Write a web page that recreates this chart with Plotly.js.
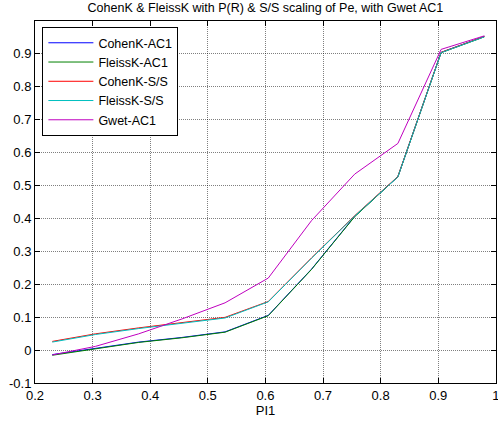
<!DOCTYPE html>
<html>
<head>
<meta charset="utf-8">
<script src="https://cdn.plot.ly/plotly-3.0.1.min.js"></script>
<style>html,body{margin:0;padding:0;background:#fff;}#chart{width:498px;height:425px;}</style>
</head>
<body>
<div id="chart"></div>
<script>
var pi1 = [0.23, 0.305, 0.38, 0.455, 0.53, 0.605, 0.68, 0.755, 0.83, 0.905, 0.98];
var cohenAC1 = [-0.014, 0.004, 0.024, 0.038, 0.055, 0.105, 0.245, 0.405, 0.525, 0.902, 0.950];
var fleissAC1 = [-0.016, 0.003, 0.023, 0.037, 0.054, 0.104, 0.244, 0.404, 0.525, 0.901, 0.949];
var cohenSS = [0.026, 0.049, 0.067, 0.082, 0.099, 0.147, 0.279, 0.407, 0.526, 0.902, 0.950];
var fleissSS = [0.024, 0.047, 0.065, 0.080, 0.097, 0.146, 0.278, 0.406, 0.525, 0.901, 0.949];
var gwetAC1 = [-0.015, 0.011, 0.049, 0.094, 0.143, 0.218, 0.392, 0.533, 0.626, 0.911, 0.952];

var seriesNames = ['CohenK-AC1', 'FleissK-AC1', 'CohenK-S/S', 'FleissK-S/S', 'Gwet-AC1'];
var seriesData = [cohenAC1, fleissAC1, cohenSS, fleissSS, gwetAC1];
var seriesColors = ['#0000ff', '#008000', '#ff0000', '#00bfbf', '#bf00bf'];

var xTicks = [0.2, 0.3, 0.4, 0.5, 0.6, 0.7, 0.8, 0.9, 1.0];
var xTickText = ['0.2', '0.3', '0.4', '0.5', '0.6', '0.7', '0.8', '0.9', '1'];
var yTicks = [-0.1, 0, 0.1, 0.2, 0.3, 0.4, 0.5, 0.6, 0.7, 0.8, 0.9];
var yTickText = ['-0.1', '0', '0.1', '0.2', '0.3', '0.4', '0.5', '0.6', '0.7', '0.8', '0.9'];

var traces = seriesNames.map(function (n, i) {
  return {
    x: pi1, y: seriesData[i], name: n, type: 'scatter', mode: 'lines',
    line: {color: seriesColors[i], width: 1}
  };
});

var fontFam = 'Liberation Sans, Arial, sans-serif';
var axisCommon = {
  showline: true, linecolor: '#000', linewidth: 1, mirror: 'ticks',
  ticks: 'inside', ticklen: 5, tickcolor: '#000', tickwidth: 1,
  showgrid: true, gridcolor: 'rgba(0,0,0,0.5)', griddash: '1px,1px', gridwidth: 1,
  zeroline: false, tickfont: {family: fontFam, size: 13, color: '#000'},
  ticklabeloverflow: 'allow'
};

var layout = {
  width: 498, height: 425,
  margin: {l: 35, r: 2, t: 21, b: 42, pad: 0},
  paper_bgcolor: '#fff', plot_bgcolor: '#fff',
  title: {text: 'CohenK &amp; FleissK with P(R) &amp; S/S scaling of Pe, with Gwet AC1',
          font: {family: fontFam, size: 12.5, color: '#000'},
          x: 0.533, xanchor: 'center', y: 0.982, yanchor: 'middle'},
  xaxis: Object.assign({}, axisCommon, {
    range: [0.2, 1.0003], tickvals: xTicks, ticktext: xTickText,
    title: {text: 'PI1', font: {family: fontFam, size: 13, color: '#000'}, standoff: 4}
  }),
  yaxis: Object.assign({}, axisCommon, {
    range: [-0.1, 0.997], tickvals: yTicks, ticktext: yTickText
  }),
  showlegend: true,
  legend: {
    x: 0.016, y: 0.983, xanchor: 'left', yanchor: 'top',
    bgcolor: '#fff', bordercolor: '#000', borderwidth: 1,
    font: {family: fontFam, size: 12.5, color: '#000'},
    tracegroupgap: 0, itemwidth: 45
  }
};

Plotly.newPlot('chart', traces, layout, {displayModeBar: false, staticPlot: true});
</script>
</body>
</html>
